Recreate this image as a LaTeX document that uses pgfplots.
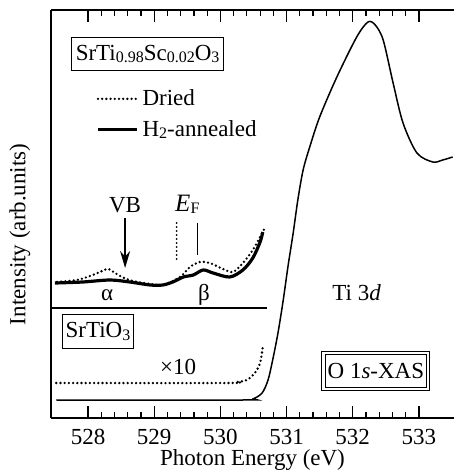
\documentclass[border=0pt]{standalone}
\usepackage{fontspec}
\setmainfont{Liberation Serif}
\usepackage{pgfplots}
\pgfplotsset{compat=1.18}
\usetikzlibrary{arrows.meta}

% small lowered digits, as in the chemical formulas of the original
\newcommand{\lo}[1]{\raisebox{-0.2ex}{\fontsize{8bp}{9bp}\selectfont #1}}

\begin{document}
\begin{tikzpicture}
\begin{axis}[
    scale only axis,
    width=201.5bp, height=204bp,
    xmin=527.44, xmax=533.53,
    ymin=0, ymax=408,
    axis x line=box, axis y line=left,
    axis line style={-, line width=0.8bp},
    xtick={528,529,530,531,532,533},
    minor x tick num=4,
    ytick=\empty,
    major tick length=6bp, minor tick length=3bp,
    tick style={line width=0.6bp, black},
    xticklabel style={font=\fontsize{11.5bp}{13bp}\selectfont, yshift=-2bp},
    /pgf/number format/1000 sep={},
    /pgf/number format/assume math mode=true,
    xlabel={Photon Energy (eV)},
    ylabel={Intensity (arb.units)},
    label style={font=\fontsize{11.5bp}{13bp}\selectfont},
    xlabel style={at={(axis description cs:0.5,0)}, yshift=-21.2bp, anchor=center},
    ylabel style={at={(axis description cs:-0.077,0.45)}, anchor=center},
    legend style={draw=none, fill=none, at={(axis cs:528.12,333)}, anchor=north west,
        font=\fontsize{11.5bp}{13bp}\selectfont, row sep=2bp, inner sep=0pt,
        cells={anchor=west}},
    legend image code/.code={\draw[#1] (0bp,0bp) -- (19.5bp,0bp);},
    clip=false,
]
\coordinate (ll) at (rel axis cs:0,0);
\coordinate (ur) at (rel axis cs:1,1);

% SrTi0.98Sc0.02O3, dried
\addplot[black, line width=1.3bp, line cap=round, dash pattern=on 0bp off 2.1bp, smooth, tension=0.5]
  coordinates {(527.53,136)(527.83,138)(528.03,142)(528.18,146)(528.30,149)(528.41,145)
  (528.51,141)(528.68,137)(528.94,134)(529.13,133)(529.39,141)(529.54,151)(529.69,156)
  (529.84,155)(530.04,149)(530.19,146)(530.34,155)(530.49,168)(530.60,181)(530.67,190)};
\addlegendentry{Dried}
% SrTi0.98Sc0.02O3, H2-annealed
\addplot[black, line width=1.6bp, smooth, tension=0.5]
  coordinates {(527.50,135)(527.92,136)(528.33,138)(528.63,136)(528.94,133)(529.13,133)
  (529.28,136)(529.44,141)(529.59,143)(529.74,148)(529.89,145)(530.14,141)(530.34,148)
  (530.49,160)(530.60,176)(530.64,186)};
\addlegendentry{H\lo{2}-annealed}

% separator between the two panels
\addplot[black, line width=0.6bp, forget plot] coordinates {(527.44,110)(530.70,110)};

% SrTiO3, x10
\addplot[black, line width=1.3bp, line cap=round, dash pattern=on 0bp off 2.1bp, smooth, tension=0.5, forget plot]
  coordinates {(527.52,35)(530.10,35)(530.25,36)(530.40,38)(530.52,45)(530.60,55)(530.64,71)};
% SrTiO3 O 1s XAS
\addplot[black, line width=0.75bp, smooth, tension=0.5, forget plot]
  coordinates {(527.52,18)(530.34,18)(530.49,19)(530.63,25)(530.72,38)(530.79,58)(530.87,85)
  (530.95,118)(531.02,151)(531.10,185)(531.17,218)(531.25,248)(531.35,271)(531.50,301)
  (531.76,341)(532.06,381)(532.23,396)(532.34,393)(532.46,378)(532.61,335)(532.76,295)
  (532.97,265)(533.21,256)(533.36,258)(533.51,261)};

% annotations
\draw[black, line width=0.7bp, -{Stealth[length=8.5bp, width=5bp]}] (axis cs:528.56,200) -- (axis cs:528.56,150);
\node[font=\fontsize{11.5bp}{13bp}\selectfont] at (axis cs:528.56,213) {VB};
\draw[black, line width=0.7bp] (axis cs:529.65,195) -- (axis cs:529.65,163);
\draw[black, line width=1bp, line cap=round, dash pattern=on 0bp off 2bp] (axis cs:529.34,195) -- (axis cs:529.34,156);
\node[font=\fontsize{12.5bp}{13bp}\selectfont] at (axis cs:529.50,214) {\textit{E}\lo{F}};
\node[font=\fontsize{11.5bp}{13bp}\selectfont] at (axis cs:528.29,123) {α};
\node[font=\fontsize{11.5bp}{13bp}\selectfont] at (axis cs:529.75,123) {β};
\node[font=\fontsize{11.5bp}{13bp}\selectfont] at (axis cs:532.06,125) {Ti 3\textit{d}};
\node[draw, line width=0.6bp, inner xsep=2bp, inner ysep=4bp, font=\fontsize{11.5bp}{13bp}\selectfont]
  at (axis cs:528.90,364) {SrTi\lo{0.98}Sc\lo{0.02}O\lo{3}};
\node[draw, line width=0.6bp, inner xsep=1.5bp, inner ysep=4bp, font=\fontsize{11.5bp}{13bp}\selectfont]
  at (axis cs:528.15,86.5) {SrTiO\lo{3}};
\node[font=\fontsize{11.5bp}{13bp}\selectfont] at (axis cs:529.36,51) {×10};
\node[draw, double, double distance=1.2bp, line width=0.5bp, inner xsep=2bp, inner ysep=5bp,
  font=\fontsize{11.5bp}{13bp}\selectfont] at (axis cs:532.35,47) {O 1\textit{s}-XAS};
\end{axis}
\pgfresetboundingbox
\path[use as bounding box] ([xshift=-25.5bp,yshift=-27bp]ll) rectangle ([yshift=5bp]ur);
\end{tikzpicture}
\end{document}
